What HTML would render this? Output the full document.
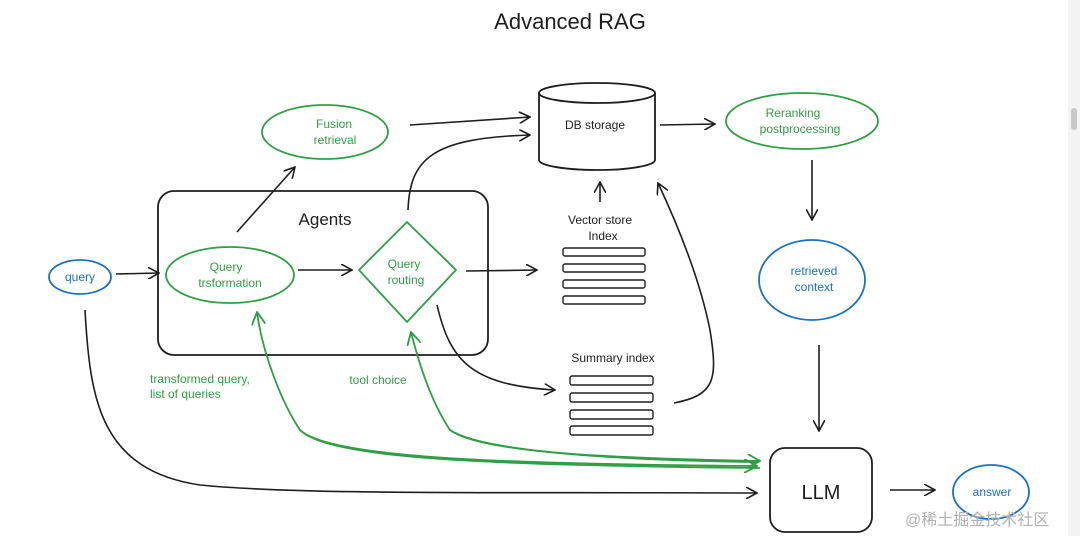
<!DOCTYPE html>
<html><head><meta charset="utf-8"><style>
html,body{margin:0;padding:0;background:#fff;width:1080px;height:536px;overflow:hidden}
text{font-family:"Liberation Sans","Noto Sans CJK SC",sans-serif}
</style></head><body>
<svg width="1080" height="536" viewBox="0 0 1080 536" xmlns="http://www.w3.org/2000/svg">
<defs>
<marker id="a" viewBox="0 0 12 12" refX="11" refY="6" markerWidth="12" markerHeight="12" markerUnits="userSpaceOnUse" orient="auto"><path d="M0,0 L11,6 L0,12" fill="none" stroke="#1e1e1e" stroke-width="1.6"/></marker>
<marker id="g" viewBox="0 0 12 12" refX="11" refY="6" markerWidth="14" markerHeight="14" markerUnits="userSpaceOnUse" orient="auto"><path d="M0,0 L11,6 L0,12" fill="none" stroke="#2f9e44" stroke-width="1.6"/></marker>
</defs>
<rect x="1068" y="0" width="12" height="536" fill="#f3f3f3"/>
<rect x="1071" y="108" width="6" height="22" fill="#c8c8c8" rx="3"/>
<text x="570" y="29" font-size="22" text-anchor="middle" fill="#1e1e1e">Advanced RAG</text>

<g fill="none" stroke-width="1.8">
<ellipse cx="325" cy="132" rx="63" ry="27" stroke="#2f9e44"/>
<rect x="158" y="191" width="330" height="164" rx="16" stroke="#1e1e1e"/>
<ellipse cx="80" cy="277" rx="31" ry="17" stroke="#1971c2"/>
<ellipse cx="230" cy="275" rx="64" ry="28" stroke="#2f9e44"/>
<path d="M407,222 L456,270 L407,322 L359,270 Z" stroke="#2f9e44" stroke-linejoin="round"/>
<path d="M539,93 L539,160 A58,10 0 0 0 655,160 L655,93" stroke="#1e1e1e"/>
<ellipse cx="597" cy="93" rx="58" ry="10" stroke="#1e1e1e"/>
<ellipse cx="802" cy="121" rx="76" ry="28" stroke="#2f9e44"/>
<ellipse cx="812" cy="280" rx="53" ry="40" stroke="#1971c2"/>
<ellipse cx="991" cy="492" rx="38" ry="27" stroke="#1971c2"/>
<rect x="770" y="448" width="102" height="84" rx="15" stroke="#1e1e1e"/>
<g stroke="#1e1e1e" stroke-width="1.4">
<rect x="563" y="248" width="82" height="8" rx="2"/><rect x="563" y="264" width="82" height="8" rx="2"/><rect x="563" y="280" width="82" height="8" rx="2"/><rect x="563" y="296" width="82" height="8" rx="2"/>
<rect x="570" y="376" width="83" height="9" rx="2"/><rect x="570" y="393" width="83" height="9" rx="2"/><rect x="570" y="410" width="83" height="9" rx="2"/><rect x="570" y="426" width="83" height="9" rx="2"/>
</g>
<g stroke="#1e1e1e" stroke-width="1.6" marker-end="url(#a)">
<path d="M116,274 L159,273"/>
<path d="M298,270 L352,270"/>
<path d="M466,271 L537,270"/>
<path d="M237,232 L295,167"/>
<path d="M410,125 L530,117"/>
<path d="M408,210 C410,160 430,138 530,135"/>
<path d="M437,305 C450,360 470,385 555,390"/>
<path d="M660,125 L715,124"/>
<path d="M600,202 L600,182"/>
<path d="M674,403 C715,395 718,380 710,330 C700,280 680,230 658,183"/>
<path d="M812,160 L812,220"/>
<path d="M819,345 L819,431"/>
<path d="M890,490 L935,490"/>
<path d="M85,310 C90,400 100,470 200,485 C300,495 500,492 757,493"/>
</g>
<g stroke="#2f9e44" stroke-width="1.8">
<path d="M760,468 C500,465 330,460 300,430 C280,400 262,350 257,312" marker-end="url(#g)"/>
<path d="M757,462 C600,460 480,450 450,430 C430,400 418,360 411,332" marker-end="url(#g)"/>
<path d="M300,430 C330,458 500,464 757,466" marker-end="url(#g)"/>
<path d="M450,430 C480,452 600,458 760,461" marker-end="url(#g)"/>
</g>
</g>

<g font-size="12" text-anchor="middle">
<text x="334" y="128" fill="#2f9e44">Fusion</text><text x="335" y="144" fill="#2f9e44">retrieval</text>
<text x="325" y="225" font-size="17" fill="#1e1e1e">Agents</text>
<text x="80" y="281" fill="#1971c2">query</text>
<text x="226" y="271" fill="#2f9e44">Query</text><text x="230" y="287" fill="#2f9e44">trsformation</text>
<text x="404" y="268" fill="#2f9e44">Query</text><text x="406" y="284" fill="#2f9e44">routing</text>
<text x="595" y="129" fill="#1e1e1e">DB storage</text>
<text x="793" y="117" fill="#2f9e44">Reranking</text><text x="800" y="133" fill="#2f9e44">postprocessing</text>
<text x="814" y="275" fill="#1971c2">retrieved</text><text x="814" y="291" fill="#1971c2">context</text>
<text x="600" y="224" fill="#1e1e1e">Vector store</text><text x="603" y="240" fill="#1e1e1e">Index</text>
<text x="613" y="362" fill="#1e1e1e">Summary index</text>
<text x="821" y="499" font-size="20" fill="#1e1e1e">LLM</text>
<text x="992" y="496" fill="#1971c2">answer</text>
<text x="378" y="384" fill="#2f9e44">tool choice</text>
</g>
<text x="150" y="383" font-size="12" fill="#2f9e44">transformed query,</text>
<text x="150" y="398" font-size="12" fill="#2f9e44">list of queries</text>
<text x="905" y="525" font-size="16" fill="#b0b0b0">@稀土掘金技术社区</text>
</svg>
</body></html>
